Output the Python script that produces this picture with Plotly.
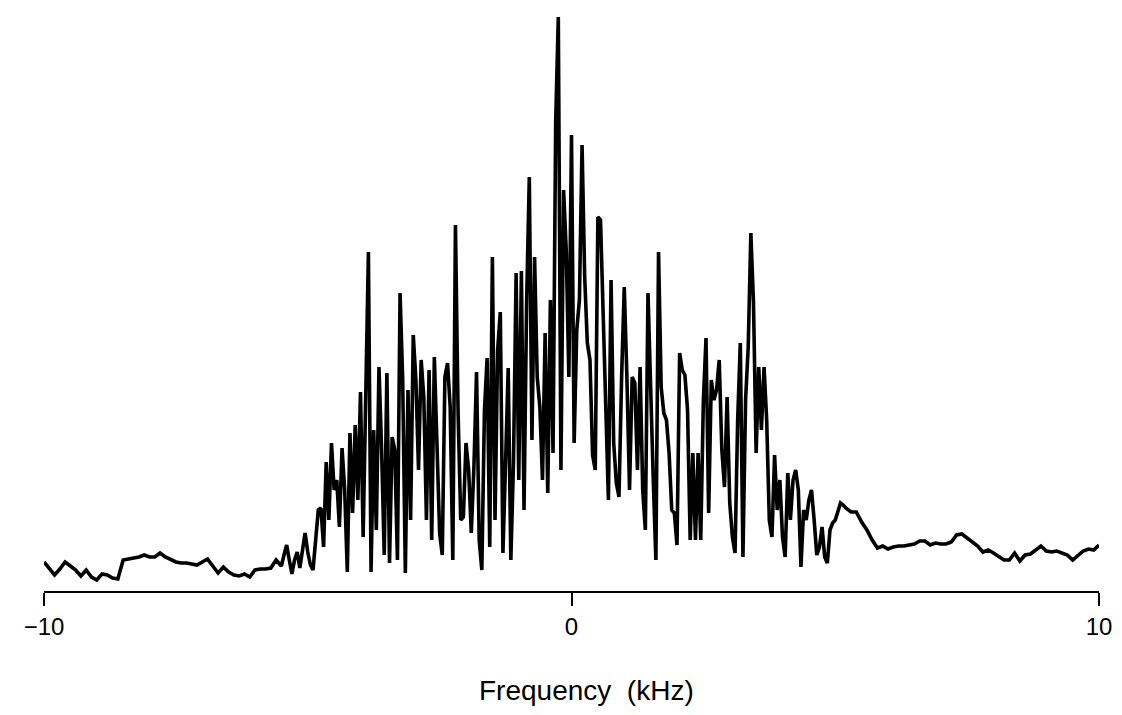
import numpy as np
import plotly.graph_objects as go

# ---- data (intensity in arbitrary units) ----
# Region A: -10.0 .. -5.5 kHz, step 0.1
wing_left = [
    5.8, 4.6, 3.2, 4.4, 5.8, 5.0, 4.2, 3.0, 4.2, 2.8,
    2.2, 3.4, 3.2, 2.6, 2.4, 6.2, 6.4, 6.6, 6.8, 7.2,
    6.8, 6.8, 7.6, 6.8, 6.2, 5.8, 5.6, 5.6, 5.4, 5.2,
    5.8, 6.4, 5.0, 3.6, 4.8, 3.8, 3.2, 3.0, 3.4, 2.8,
    4.2, 4.4, 4.4, 4.6, 6.2, 5.0,
]
# Region B: -5.45 .. 5.20 kHz, step 0.05
center = [
    7.2, 9.2, 6.2, 3.4, 6.2, 7.8, 4.6, 8.6, 11.6, 7.8,
    5.2, 4.2, 11.2, 16.2, 16.6, 8.8, 25.8, 14.2, 29.6, 20.2,
    22.2, 12.8, 28.6, 20.2, 3.8, 31.6, 15.6, 33.2, 18.2, 39.8,
    10.8, 42.2, 67.8, 3.8, 32.2, 12.2, 44.8, 28.2, 7.2, 43.6,
    5.6, 30.8, 28.2, 6.2, 59.6, 42.2, 3.6, 40.2, 14.2, 51.2,
    42.2, 24.2, 46.2, 38.8, 14.2, 44.2, 10.2, 46.8, 28.8, 11.6,
    7.2, 42.8, 45.6, 36.8, 6.2, 73.2, 35.6, 14.2, 14.8, 29.6,
    24.2, 11.6, 24.8, 43.8, 10.2, 4.2, 36.2, 46.6, 8.8, 66.8,
    14.2, 48.2, 55.8, 7.6, 25.6, 44.6, 6.2, 25.6, 63.6, 22.2,
    64.0, 16.2, 58.2, 82.8, 30.2, 66.8, 42.8, 36.8, 22.2, 51.6,
    19.6, 58.2, 27.6, 93.8, 114.8, 24.2, 80.2, 68.2, 42.8, 91.2,
    29.6, 52.2, 58.2, 89.2, 62.8, 49.6, 46.2, 27.2, 24.2, 74.8,
    74.2, 56.2, 40.2, 18.2, 62.2, 29.6, 21.6, 18.8, 42.8, 60.8,
    42.8, 20.2, 42.8, 41.6, 24.2, 44.8, 20.2, 12.2, 59.6, 38.2,
    22.2, 6.2, 67.8, 40.8, 35.6, 34.2, 27.6, 16.2, 15.6, 9.2,
    47.6, 44.2, 43.2, 36.2, 10.2, 27.6, 10.2, 27.6, 10.2, 38.2,
    50.6, 15.6, 42.2, 38.2, 40.2, 46.2, 28.2, 20.8, 38.8, 17.6,
    10.8, 7.6, 34.2, 49.6, 6.8, 38.2, 48.8, 71.6, 57.6, 27.6,
    44.8, 32.2, 44.8, 34.2, 14.2, 10.8, 27.2, 16.2, 22.2, 10.8,
    6.8, 23.6, 14.2, 22.2, 24.2, 20.2, 4.8, 16.2, 14.2, 18.2,
    20.2, 14.2, 7.2, 8.8, 12.8, 6.8, 5.6, 12.2, 13.6, 14.2,
    16.2, 17.6, 17.2, 16.6,
]
# Region C: 5.3 .. 10.0 kHz, step 0.1
wing_right = [
    15.8, 15.8, 13.8, 12.2, 10.2, 8.6, 9.0, 8.4, 8.8, 9.0,
    9.0, 9.2, 9.4, 10.0, 10.0, 9.2, 9.6, 9.4, 9.4, 9.8,
    11.2, 11.4, 10.6, 10.0, 9.0, 7.8, 8.2, 7.6, 7.0, 6.2,
    6.2, 7.6, 6.0, 7.2, 7.4, 8.2, 9.0, 8.0, 7.8, 8.0,
    7.6, 7.2, 6.2, 7.2, 8.0, 8.4, 8.2, 9.2,
]
tick_values = [-10, 0, 10]
tick_labels = ["\u221210", "0", "10"]
axis_title = "Frequency \u00a0(kHz)"

# sampling grid of the spectrum (kHz)
f_left = np.round(-10.0 + 0.1 * np.arange(len(wing_left)), 3)
f_center = np.round(-5.45 + 0.05 * np.arange(len(center)), 3)
f_right = np.round(5.3 + 0.1 * np.arange(len(wing_right)), 3)

freq = np.concatenate([f_left, f_center, f_right])
intensity = np.concatenate([wing_left, center, wing_right])

fig = go.Figure()
fig.add_trace(go.Scatter(
    x=freq, y=intensity, mode="lines",
    line=dict(color="black", width=3.6),
    hoverinfo="x+y", showlegend=False,
))

fig.update_layout(
    width=1122, height=715,
    margin=dict(l=44, r=21, t=10, b=124),
    paper_bgcolor="white", plot_bgcolor="white",
    font=dict(family="Liberation Sans, Arial, sans-serif", color="black"),
    xaxis=dict(
        range=[-10, 10], tickvals=tick_values, ticktext=tick_labels,
        showline=True, linecolor="black", linewidth=2,
        ticks="outside", ticklen=13, tickwidth=2, tickcolor="black",
        tickfont=dict(size=24), showgrid=False, zeroline=False,
    ),
    yaxis=dict(range=[0, 116.2], visible=False, showgrid=False, zeroline=False),
    annotations=[dict(
        text=axis_title, x=0.29, xref="x", y=0, yref="paper",
        yanchor="middle", yshift=-99, showarrow=False,
        font=dict(size=28),
    )],
)

fig.write_html("out.html")
